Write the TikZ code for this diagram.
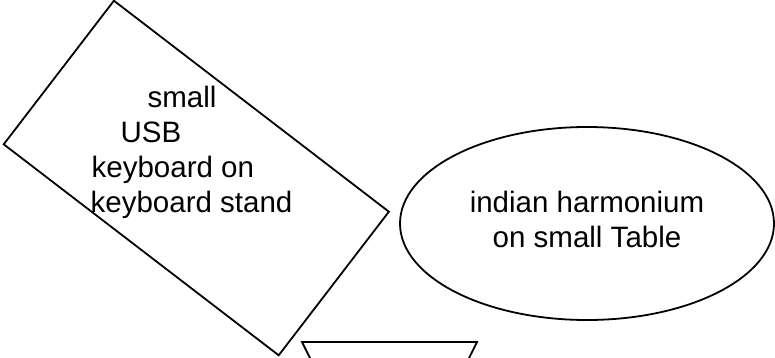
\documentclass[tikz,border=0pt]{standalone}
\usepackage{fontspec}
\setmainfont{Liberation Sans}
\usetikzlibrary{shapes.geometric}

\tikzset{
  outline/.style={draw=black, line width=0.9pt, inner sep=0pt},
  caption/.style={font=\fontsize{14.75}{17.5}\selectfont, inner sep=0pt},
}

\begin{document}
\begin{tikzpicture}[x=0.5pt,y=-0.5pt]
  \clip (0,0) rectangle (775,358);
  % keyboard on its stand
  \node [outline, rectangle, rotate=-37.5, minimum width=173.3pt, minimum height=90.5pt] (keyboard) at (196.3,178) {};
  \node [caption, align=left] (keyboardtext) at (191.5,152)
    {\hspace*{28.5pt}small\\ \hspace*{15pt}USB\\ \hspace*{0.5pt}keyboard on\\keyboard stand};
  % harmonium
  \node [outline, ellipse, minimum width=187pt, minimum height=96.5pt] (harmonium) at (587,223.5) {};
  \node [caption, align=center] (harmoniumtext) at (587,219.7) {indian harmonium\\on small Table};
  % table, runs off the page
  \coordinate (tableleft) at (302,342);
  \coordinate (tableright) at (477,342);
  \draw [outline] (331,400) -- (tableleft) -- (tableright) -- (448,400);
\end{tikzpicture}
\end{document}
